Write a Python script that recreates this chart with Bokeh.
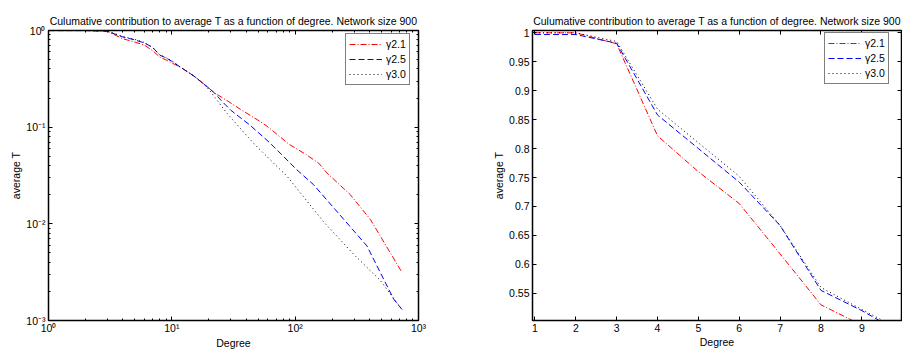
from bokeh.plotting import figure
from bokeh.layouts import row
from bokeh.models import (FixedTicker, LogAxis, LinearAxis, CustomJSTickFormatter,
                          Legend, LegendItem, Range1d)
from bokeh.embed import file_html
from bokeh.resources import INLINE

TITLE = "Culumative contribution to average T as a function of degree. Network size 900"
X_LABEL = "Degree"
Y_LABEL = "average T"
SERIES_LABELS = ["\u03b32.1", "\u03b32.5", "\u03b33.0"]

# gamma 2.1
deg_21 = [1, 2, 3, 4, 5, 6, 7, 8, 9, 10, 12, 15, 18, 22, 29, 36, 50, 60, 90, 120, 155, 181, 280, 407, 735]
t_21 = [1.0, 1.0, 0.981, 0.822, 0.76, 0.705, 0.618, 0.53, 0.495, 0.462, 0.41, 0.34, 0.283, 0.228,
        0.183, 0.153, 0.118, 0.101, 0.066, 0.053, 0.0425, 0.0336, 0.02, 0.0111, 0.00314]
# gamma 2.5
deg_25 = [1, 2, 3, 4, 5, 6, 7, 8, 9, 10, 12, 15, 18, 22, 25, 30, 43, 63, 103, 141, 263, 382, 628, 735]
t_25 = [0.997, 0.997, 0.982, 0.858, 0.80, 0.742, 0.667, 0.555, 0.52, 0.48, 0.41, 0.34, 0.283, 0.228,
        0.19, 0.15, 0.105, 0.068, 0.0363, 0.0254, 0.0102, 0.0059, 0.00167, 0.0013]
# gamma 3.0
deg_30 = [1, 2, 3, 4, 5, 6, 7, 8, 9, 10, 12, 15, 18, 20, 24, 28, 46, 86, 170, 300, 490, 712]
t_30 = [1.0, 1.0, 0.985, 0.868, 0.81, 0.752, 0.667, 0.56, 0.522, 0.485, 0.41, 0.34, 0.28, 0.245,
        0.18, 0.139, 0.068, 0.031, 0.0105, 0.0048, 0.0026, 0.00137]

LOG_X_TICKS = [1, 10, 100, 1000]
LOG_Y_TICKS = [0.001, 0.01, 0.1, 1]
LIN_X_TICKS = [1, 2, 3, 4, 5, 6, 7, 8, 9]
LIN_Y_TICKS = [0.55, 0.6, 0.65, 0.7, 0.75, 0.8, 0.85, 0.9, 0.95, 1.0]

COLORS = ["#ff0000", "#0000ff", "#000000"]
DASHES = ["6 2 1 2", "6 3", "1 3"]
FONT = "Liberation Sans"

series = [(deg_21, t_21), (deg_25, t_25), (deg_30, t_30)]


def minor_log(lo, hi):
    out = []
    for e in range(lo, hi):
        for k in range(2, 10):
            out.append(k * 10.0 ** e)
    return out


SUP_FMT = CustomJSTickFormatter(code="""
const e = Math.round(Math.log10(tick));
const m = {'0':'\u2070','1':'\u00b9','2':'\u00b2','3':'\u00b3','4':'\u2074','5':'\u2075',
           '6':'\u2076','7':'\u2077','8':'\u2078','9':'\u2079','-':'\u207b'};
return '10' + String(e).split('').map(c => m[c]).join('');
""")
NUM_FMT = CustomJSTickFormatter(code="return String(Math.round(tick*100)/100);")
EMPTY_FMT = CustomJSTickFormatter(code="return '';")


def style_axis(ax, show_labels=True, tight=False):
    ax.major_tick_in = 4
    ax.major_tick_out = 0
    ax.minor_tick_in = 2
    ax.minor_tick_out = 0
    ax.axis_line_color = "black"
    ax.axis_line_width = 1
    ax.major_tick_line_color = "black"
    ax.minor_tick_line_color = "black"
    ax.major_label_text_font = FONT
    ax.major_label_text_color = "black"
    ax.axis_label_text_font = FONT
    ax.axis_label_text_font_style = "normal"
    ax.axis_label_text_font_size = "10.5px"
    ax.axis_label_text_color = "black"
    ax.major_label_text_font_size = "10.5px"
    if show_labels:
        ax.major_label_standoff = 1 if tight else 3
        ax.axis_label_standoff = 0 if tight else 1
    else:
        ax.major_label_standoff = 0


def make_fig(log, fw, fh, left_border, right_border, leg_right, leg_top):
    kw = dict(frame_width=fw, frame_height=fh, output_backend="svg", toolbar_location=None,
              min_border_left=left_border, min_border_right=right_border,
              min_border_top=30, min_border_bottom=0)
    if log:
        p = figure(x_axis_type="log", y_axis_type="log",
                   x_range=Range1d(1, 1000), y_range=Range1d(0.001, 1), **kw)
    else:
        p = figure(x_range=Range1d(0.94, 9.97), y_range=Range1d(0.503, 1.004), **kw)
    p.title.text = TITLE
    p.title.text_font = FONT
    p.title.text_font_size = "10.5px"
    p.title.text_font_style = "normal"
    p.title.align = "center"
    p.title.text_color = "black"
    p.title.standoff = 8
    p.grid.visible = False
    p.outline_line_color = "black"
    p.outline_line_width = 1.5
    p.background_fill_color = "white"
    p.border_fill_color = "white"

    if log:
        xt = FixedTicker(ticks=LOG_X_TICKS, minor_ticks=minor_log(0, 3))
        yt = FixedTicker(ticks=LOG_Y_TICKS, minor_ticks=minor_log(-3, 0))
        xf = yf = SUP_FMT
        AxX, AxY = LogAxis, LogAxis
    else:
        xt = FixedTicker(ticks=LIN_X_TICKS, minor_ticks=[])
        yt = FixedTicker(ticks=LIN_Y_TICKS, minor_ticks=[])
        xf = yf = NUM_FMT
        AxX, AxY = LinearAxis, LinearAxis

    p.xaxis.ticker = xt
    p.yaxis.ticker = yt
    p.xaxis.formatter = xf
    p.yaxis.formatter = yf
    p.xaxis.axis_label = X_LABEL
    p.yaxis.axis_label = Y_LABEL
    for ax in p.xaxis:
        style_axis(ax, tight=log)
    for ax in p.yaxis:
        style_axis(ax)

    top = AxX(ticker=xt, formatter=EMPTY_FMT)
    style_axis(top, show_labels=False)
    p.add_layout(top, "above")
    right = AxY(ticker=yt, formatter=EMPTY_FMT)
    style_axis(right, show_labels=False)
    p.add_layout(right, "right")

    items = []
    for (xs, ys), c, d, lab in zip(series, COLORS, DASHES, SERIES_LABELS):
        r = p.line(xs, ys, line_color=c, line_dash=d, line_width=1)
        items.append(LegendItem(label=lab, renderers=[r]))
    leg_w, leg_h = 72, 50
    leg = Legend(items=items, location=(fw - leg_right - leg_w, fh - leg_top - leg_h))
    leg.border_line_color = "black"
    leg.border_line_width = 1.5
    leg.background_fill_color = "white"
    leg.background_fill_alpha = 1
    leg.label_text_font = FONT
    leg.label_text_font_size = "10.5px"
    leg.label_text_color = "black"
    leg.glyph_width = 33
    leg.glyph_height = 14
    leg.label_height = 14
    leg.label_standoff = 4
    leg.spacing = 1
    leg.padding = 3
    leg.margin = 0
    p.add_layout(leg)
    return p


p1 = make_fig(True, 370, 290, 48, 32, 1, 5)
p2 = make_fig(False, 369, 290, 82, 1, 5, 4)
p = row(p1, p2)
open("out.html", "w").write(file_html(p, INLINE))
